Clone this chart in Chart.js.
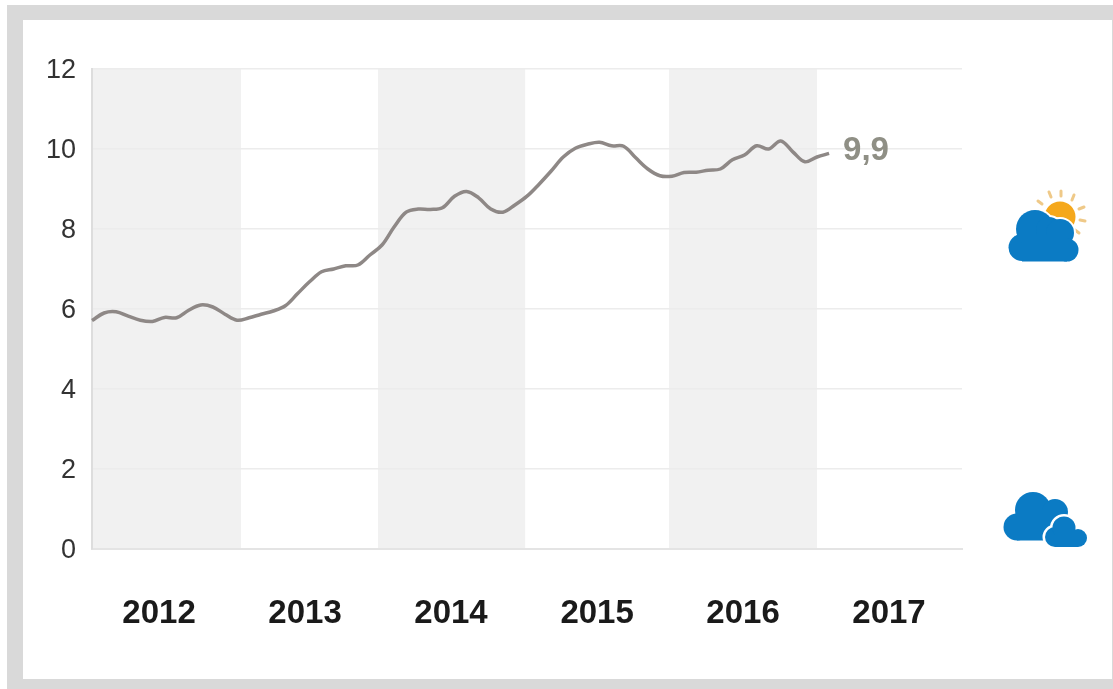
<!DOCTYPE html>
<html>
<head>
<meta charset="utf-8">
<style>
html,body{margin:0;padding:0;background:#fff;width:1113px;height:689px;overflow:hidden}
#frame{position:absolute;left:7px;top:5px;width:1089px;height:659px;border-style:solid;border-color:#d9d9d9;border-width:15px 1px 10px 16px}
#wrap{position:absolute;left:0;top:0;width:1113px;height:689px;filter:blur(0.4px)}
svg{position:absolute;left:0;top:0;filter:blur(0.6px)}
</style>
</head>
<body>
<div id="frame"></div>
<div id="wrap"><canvas id="c" width="1113" height="689"></canvas></div>
<svg width="1113" height="689" viewBox="0 0 1113 689">
  <g stroke="#efc988" stroke-width="3" stroke-linecap="round">
    <line x1="1038" y1="201" x2="1042" y2="204"/>
    <line x1="1049" y1="192" x2="1051" y2="197"/>
    <line x1="1061" y1="191" x2="1061" y2="196"/>
    <line x1="1074" y1="195" x2="1072" y2="200"/>
    <line x1="1084" y1="207" x2="1079" y2="209"/>
    <line x1="1085" y1="221" x2="1080" y2="220"/>
    <line x1="1079" y1="233" x2="1075" y2="230"/>
  </g>
  <circle cx="1060" cy="217" r="15.5" fill="#f5a81c"/>
  <g fill="#fff" stroke="#fff" stroke-width="4">
    <circle cx="1022" cy="247.5" r="13.5"/><circle cx="1035" cy="229" r="19"/><circle cx="1049" cy="230" r="13"/><circle cx="1060" cy="233" r="14"/><circle cx="1067" cy="250" r="11.5"/><rect x="1022" y="235" width="45" height="26.5"/>
  </g>
  <g fill="#0b7bc4">
    <circle cx="1022" cy="247.5" r="13.5"/><circle cx="1035" cy="229" r="19"/><circle cx="1049" cy="230" r="13"/><circle cx="1060" cy="233" r="14"/><circle cx="1067" cy="250" r="11.5"/><rect x="1022" y="235" width="45" height="26.5"/>
  </g>
  <g fill="#0b7bc4">
    <circle cx="1017" cy="527" r="13.5"/><circle cx="1033" cy="510" r="18"/><circle cx="1055" cy="512" r="13"/><rect x="1017" y="510" width="45" height="30.5"/>
  </g>
  <g fill="#fff" stroke="#fff" stroke-width="5">
    <circle cx="1055" cy="537" r="10"/><circle cx="1064" cy="528" r="11.5"/><circle cx="1078" cy="538" r="9"/><rect x="1055" y="530" width="23" height="17"/>
  </g>
  <g fill="#0b7bc4">
    <circle cx="1055" cy="537" r="10"/><circle cx="1064" cy="528" r="11.5"/><circle cx="1078" cy="538" r="9"/><rect x="1055" y="530" width="23" height="17"/>
  </g>
</svg>
<script src="https://cdn.jsdelivr.net/npm/chart.js@4/dist/chart.umd.min.js"></script>
<script>
const months = [0,1,2,3,4,5,6,7,8,9,10,11,12,13,14,15,16,17,18,19,20,21,22,23,24,25,26,27,28,29,30,31,32,33,34,35,36,37,38,39,40,41,42,43,44,45,46,47,48,49,50,51,52,53,54,55,56,57,58,59,60,61];
const rate = [5.71,5.90,5.93,5.82,5.72,5.69,5.79,5.78,5.97,6.10,6.05,5.87,5.72,5.78,5.87,5.95,6.08,6.38,6.68,6.93,7.00,7.08,7.10,7.35,7.60,8.05,8.42,8.50,8.49,8.53,8.82,8.94,8.78,8.50,8.42,8.60,8.82,9.12,9.45,9.80,10.02,10.12,10.17,10.08,10.07,9.78,9.50,9.33,9.32,9.41,9.42,9.47,9.50,9.73,9.85,10.08,10.00,10.20,9.93,9.68,9.80,9.89];
const yearLabels = ['2012','2013','2014','2015','2016','2017'];
const yearTicks = [5.55,17.63,29.71,41.8,53.88,65.96];
const bandStarts = [0,23.67,47.75];
const bandEnds = [12.33,35.85,60];
const endLabel = '9,9';

const decorations = {
  id:'decorations',
  beforeDraw(chart){
    const {ctx,chartArea:a,scales:{x}} = chart;
    ctx.save();
    ctx.fillStyle = '#f1f1f1';
    bandStarts.forEach((s,i)=>{
      const l = x.getPixelForValue(s), r = x.getPixelForValue(bandEnds[i]);
      ctx.fillRect(l,a.top,r-l,a.bottom-a.top);
    });
    ctx.restore();
  },
  afterDatasetsDraw(chart){
    const {ctx} = chart;
    const p = chart.getDatasetMeta(0).data[rate.length-1];
    ctx.save();
    ctx.font = 'bold 33px "Liberation Sans"';
    ctx.fillStyle = '#8f8f85';
    ctx.textBaseline = 'middle';
    ctx.textAlign = 'left';
    ctx.fillText(endLabel,p.x+14,p.y-2);
    ctx.restore();
  }
};

new Chart(document.getElementById('c'),{
  type:'line',
  data:{labels:months,datasets:[{
    data:months.map((m,i)=>({x:m,y:rate[i]})),
    borderColor:'#8e8886',borderWidth:3.5,pointRadius:0,tension:0.35,fill:false,clip:false
  }]},
  options:{
    responsive:false,animation:false,
    layout:{padding:{left:0,top:69,right:151,bottom:0}},
    plugins:{legend:{display:false},tooltip:{enabled:false}},
    scales:{
      x:{type:'linear',min:0,max:72,
        afterFit(s){s.height=140;},
        afterBuildTicks(s){s.ticks=yearTicks.map(v=>({value:v}));},
        ticks:{autoSkip:false,maxRotation:0,padding:45,color:'#1a1a1a',
          font:{family:'"Liberation Sans"',size:33,weight:'bold'},
          callback(v){const i=yearTicks.indexOf(v);return i>=0?yearLabels[i]:'';}},
        grid:{display:false,drawTicks:false},
        border:{display:true,color:'#e4e4e4',width:2}
      },
      y:{min:0,max:12,
        afterFit(s){s.width=92;},
        ticks:{stepSize:2,padding:16,color:'#333333',font:{family:'"Liberation Sans"',size:27,lineHeight:'4px'},
          callback(v){return ['',String(v)];}},
        grid:{color:'#ececec',lineWidth:1.5,drawTicks:false},
        border:{display:true,color:'#dddddd',width:2}
      }
    }
  },
  plugins:[decorations]
});
</script>
</body>
</html>
